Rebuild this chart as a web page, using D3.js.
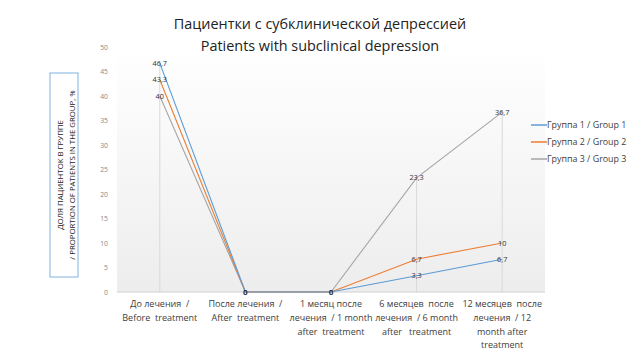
<!DOCTYPE html>
<html><head><meta charset="utf-8">
<script src="https://cdn.jsdelivr.net/npm/d3@7/dist/d3.min.js"></script>
<style>body{margin:0;background:#fff}svg{display:block}text{white-space:pre}</style>
</head><body><svg id="c" width="640" height="360"></svg>
<script>
const categories = [
  ["До лечения  /", "Before  treatment"],
  ["После лечения  /", "After  treatment"],
  ["1 месяц после", "лечения  / 1 month", "after  treatment"],
  ["6 месяцев  после", "лечения  / 6 month", "after   treatment"],
  ["12 месяцев  после", "лечения  / 12", "month after", "treatment"]
];
const seriesNames = ["Группа 1 / Group 1", "Группа 2 / Group 2", "Группа 3 / Group 3"];
const group1 = [46.7, 0, 0, 3.3, 6.7];
const group2 = [43.3, 0, 0, 6.7, 10];
const group3 = [40, 0, 0, 23.3, 36.7];
const yTicks = [0, 5, 10, 15, 20, 25, 30, 35, 40, 45, 50];
const colors = ["#5b9bd5", "#ed7d31", "#a5a5a5"];
const series = [group1, group2, group3];

const svg = d3.select("#c");
const font = "'Open Sans', sans-serif";
const L = 117, R = 545, T = 47, B = 292;

const x = d3.scaleBand().domain(d3.range(categories.length)).range([L, R]);
const y = d3.scaleLinear().domain([0, 50]).range([B, T]);

const defs = svg.append("defs");
const g = defs.append("linearGradient").attr("id", "bg").attr("x1", 0).attr("y1", 0).attr("x2", 0).attr("y2", 1);
g.append("stop").attr("offset", "0%").attr("stop-color", "#ffffff");
g.append("stop").attr("offset", "100%").attr("stop-color", "#ededed");
svg.append("rect").attr("x", L).attr("y", T).attr("width", R - L).attr("height", B - T).attr("fill", "url(#bg)");

// title
const title = svg.append("text").attr("text-anchor", "middle").attr("font-family", font)
  .attr("font-size", 14.4).attr("fill", "#222");
title.append("tspan").attr("x", 320).attr("y", 29).text("Пациентки с субклинической депрессией");
title.append("tspan").attr("x", 320).attr("y", 51).text("Patients with subclinical depression");

// drop lines
categories.forEach((c, i) => {
  const mx = d3.max(series, s => s[i]);
  svg.append("line").attr("x1", x(i) + x.bandwidth() / 2).attr("x2", x(i) + x.bandwidth() / 2)
    .attr("y1", y(mx)).attr("y2", B).attr("stroke", "#d9d9d9").attr("stroke-width", 1);
});

// y axis
const yAxis = d3.axisLeft(y).tickValues(yTicks).tickSize(0).tickPadding(0);
const ya = svg.append("g").attr("transform", `translate(${L - 9},0)`).call(yAxis);
ya.select(".domain").remove();
ya.selectAll("text").attr("font-family", font).attr("font-size", 6.8).attr("fill", "#888").attr("dy", "0.32em");

// x axis line
svg.append("line").attr("x1", L).attr("x2", R).attr("y1", B).attr("y2", B).attr("stroke", "#d0d0d0");

// x labels
categories.forEach((c, i) => {
  const t = svg.append("text").attr("text-anchor", "middle").attr("font-family", font)
    .attr("font-size", 9).attr("fill", "#404040");
  c.forEach((line, k) => t.append("tspan").attr("x", x(i) + x.bandwidth() / 2).attr("y", 307 + k * 13.8).text(line));
});

// lines
const lineGen = d3.line().x((d, i) => x(i) + x.bandwidth() / 2).y(d => y(d));
[2, 1, 0].forEach(si => {
  svg.append("path").datum(series[si]).attr("d", lineGen).attr("fill", "none")
    .attr("stroke", colors[si]).attr("stroke-width", 1.1);
});

// data labels
const fmt = v => String(v).replace(".", ",");
series.forEach((s, si) => {
  s.forEach((v, i) => {
    svg.append("text").attr("x", x(i) + x.bandwidth() / 2).attr("y", y(v)).attr("dy", "0.35em")
      .attr("text-anchor", "middle").attr("font-family", font).attr("font-size", 7.3)
      .attr("fill", "#333").text(fmt(v));
  });
});

// y axis title box
svg.append("rect").attr("x", 50).attr("y", 73).attr("width", 28).attr("height", 204)
  .attr("fill", "none").attr("stroke", "#7fb2e0").attr("stroke-width", 1);
const yt = svg.append("text").attr("transform", "translate(0,175) rotate(-90)")
  .attr("text-anchor", "middle").attr("font-family", font).attr("font-size", 7.8).attr("fill", "#222");
yt.append("tspan").attr("x", 0).attr("y", 63).text("ДОЛЯ ПАЦИЕНТОК В ГРУППЕ");
yt.append("tspan").attr("x", 0).attr("y", 75).text("/ PROPORTION OF PATIENTS IN THE GROUP, %");

// legend
seriesNames.forEach((n, i) => {
  const ly = 125 + i * 17;
  svg.append("line").attr("x1", 531).attr("x2", 547).attr("y1", ly).attr("y2", ly)
    .attr("stroke", colors[i]).attr("stroke-width", 1.5);
  svg.append("text").attr("x", 547).attr("y", ly).attr("dy", "0.35em").attr("font-family", font)
    .attr("font-size", 8.9).attr("fill", "#404040").text(n);
});
</script></body></html>
